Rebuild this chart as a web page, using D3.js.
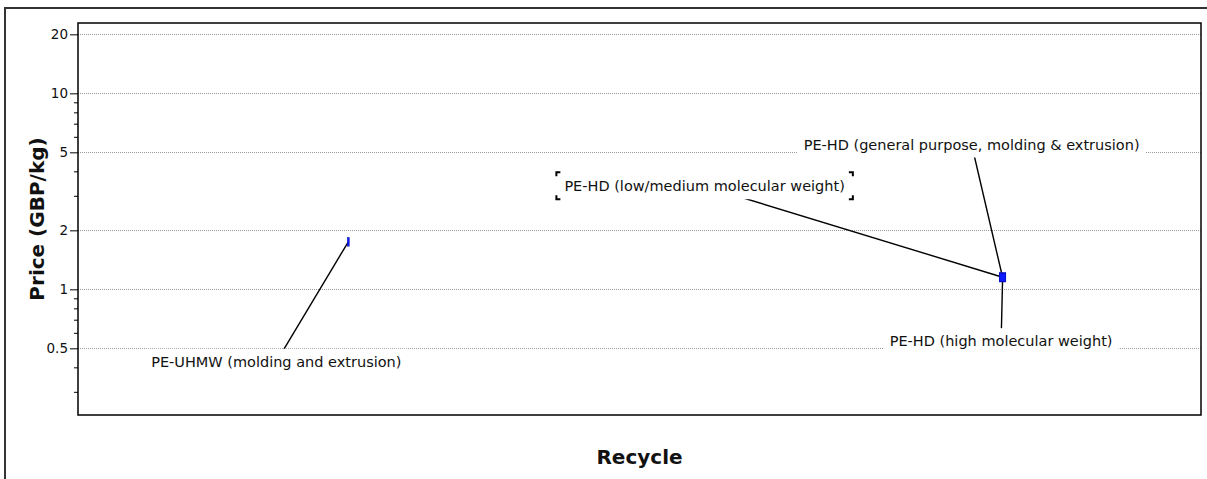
<!DOCTYPE html>
<html>
<head>
<meta charset="utf-8">
<script src="https://cdn.jsdelivr.net/npm/d3@7"></script>
<style>
  body { margin: 0; background: #fff; }
  text { font-family: "DejaVu Sans", Verdana, sans-serif; fill: #111; }
</style>
</head>
<body>
<div id="chart"></div>
<script>
// chart data
var materials = [
    "PE-UHMW (molding and extrusion)",
    "PE-HD (low/medium molecular weight)",
    "PE-HD (general purpose, molding & extrusion)",
    "PE-HD (high molecular weight)"
];
var recycleLo = [23.98, 82.05, 82.05, 82.05];
var recycleHi = [24.16, 82.62, 82.62, 82.62];
var priceLo = [1.66, 1.09, 1.10, 1.10];
var priceHi = [1.84, 1.22, 1.20, 1.21];

var yMajor = [0.5, 1, 2, 5, 10, 20];
var yMinor = [0.3, 0.4, 0.6, 0.7, 0.8, 0.9, 3, 4, 6, 7, 8, 9];

// label placement, pixels from the marker centre
var labelOffset = [
    { dx: -72, dy: 120 },
    { dx: -298, dy: -91 },
    { dx: -31, dy: -133 },
    { dx: -1.5, dy: 64 }
];
var selectedLabel = 1;

// formatting parameters
var W = 1207, H = 479;
var plot = { left: 78, top: 23, right: 1201, bottom: 415 };

var svg = d3.select("#chart")
    .append("svg")
    .attr("width", W)
    .attr("height", H);

// outer frame
svg.append("rect")
    .attr("x", 5).attr("y", 8)
    .attr("width", W + 20).attr("height", H + 20)
    .attr("fill", "none")
    .attr("stroke", "#333")
    .attr("stroke-width", 2);

var x = d3.scaleLinear()
    .domain([0, 100])
    .range([plot.left, plot.right]);

var y = d3.scaleLog()
    .domain([0.2285, 22.85])
    .range([plot.bottom, plot.top]);

// gridlines
svg.append("g")
    .selectAll("line")
    .data(yMajor)
    .enter()
    .append("line")
    .attr("x1", plot.left)
    .attr("x2", plot.right)
    .attr("y1", function (d) { return Math.round(y(d)) + 0.5; })
    .attr("y2", function (d) { return Math.round(y(d)) + 0.5; })
    .attr("stroke", "#9a9a9a")
    .attr("stroke-dasharray", "1,1");

// y axis, major and minor ticks
var yAxis = d3.axisLeft(y)
    .tickValues(yMajor)
    .tickSize(8)
    .tickPadding(2)
    .tickFormat(d3.format("~g"));
var gy = svg.append("g")
    .attr("transform", "translate(" + plot.left + ",0)")
    .call(yAxis);
gy.select(".domain").remove();
gy.selectAll("text").style("font-size", "13.5px").attr("fill", "#111");

var gyMinor = svg.append("g")
    .attr("transform", "translate(" + plot.left + ",0)")
    .call(d3.axisLeft(y).tickValues(yMinor).tickSize(4).tickFormat(""));
gyMinor.select(".domain").remove();

// plot border
svg.append("rect")
    .attr("x", plot.left).attr("y", plot.top)
    .attr("width", plot.right - plot.left)
    .attr("height", plot.bottom - plot.top)
    .attr("fill", "none")
    .attr("stroke", "#000")
    .attr("stroke-width", 1.5);

// axis titles
svg.append("text")
    .attr("transform", "translate(44," + ((plot.top + plot.bottom) / 2) + ") rotate(-90)")
    .style("text-anchor", "middle")
    .style("font-size", "20px")
    .style("font-weight", "bold")
    .text("Price (GBP/kg)");

svg.append("text")
    .attr("x", (plot.left + plot.right) / 2)
    .attr("y", 464)
    .style("text-anchor", "middle")
    .style("font-size", "20px")
    .style("font-weight", "bold")
    .text("Recycle");

var rows = materials.map(function (m, i) {
    var cx = (x(recycleLo[i]) + x(recycleHi[i])) / 2;
    var cy = (y(priceLo[i]) + y(priceHi[i])) / 2;
    return {
        name: m, i: i, cx: cx, cy: cy,
        lx: cx + labelOffset[i].dx,
        ly: cy + labelOffset[i].dy
    };
});

// leader lines
svg.append("g")
    .selectAll("line")
    .data(rows)
    .enter()
    .append("line")
    .attr("x1", function (d) { return d.cx; })
    .attr("y1", function (d) { return d.cy; })
    .attr("x2", function (d) { return d.lx; })
    .attr("y2", function (d) { return d.ly; })
    .attr("stroke", "#000")
    .attr("stroke-width", 1.4);

// markers
svg.append("g")
    .selectAll("rect")
    .data(rows)
    .enter()
    .append("rect")
    .attr("x", function (d) { return x(recycleLo[d.i]); })
    .attr("y", function (d) { return y(priceHi[d.i]); })
    .attr("width", function (d) { return x(recycleHi[d.i]) - x(recycleLo[d.i]); })
    .attr("height", function (d) { return y(priceLo[d.i]) - y(priceHi[d.i]); })
    .attr("fill", "#0c1cff")
    .attr("stroke", "#0000a0")
    .attr("stroke-width", 0.4);

// labels with white boxes
var lab = svg.append("g")
    .selectAll("g")
    .data(rows)
    .enter()
    .append("g");

var boxRect = lab.append("rect").attr("fill", "#fff");
var labText = lab.append("text")
    .attr("x", function (d) { return d.lx; })
    .attr("y", function (d) { return d.ly; })
    .attr("dy", "0.35em")
    .style("text-anchor", "middle")
    .style("font-size", "14.5px")
    .text(function (d) { return d.name; });

labText.each(function (d) {
    d.w = this.getComputedTextLength();
});
boxRect
    .attr("x", function (d) { return d.lx - d.w / 2 - 6; })
    .attr("y", function (d) { return d.ly - 13; })
    .attr("width", function (d) { return d.w + 12; })
    .attr("height", 26);

// corner marks on the selected label
var s = rows[selectedLabel];
var bx0 = s.lx - s.w / 2 - 8, bx1 = s.lx + s.w / 2 + 8;
var by0 = s.ly - 14, by1 = s.ly + 13;
var k = 4;
var corners = [
    [[bx0, by0 + k], [bx0, by0], [bx0 + k, by0]],
    [[bx1 - k, by0], [bx1, by0], [bx1, by0 + k]],
    [[bx0, by1 - k], [bx0, by1], [bx0 + k, by1]],
    [[bx1 - k, by1], [bx1, by1], [bx1, by1 - k]]
];
svg.append("g")
    .selectAll("path")
    .data(corners)
    .enter()
    .append("path")
    .attr("d", d3.line())
    .attr("fill", "none")
    .attr("stroke", "#000")
    .attr("stroke-width", 2);
</script>
</body>
</html>
